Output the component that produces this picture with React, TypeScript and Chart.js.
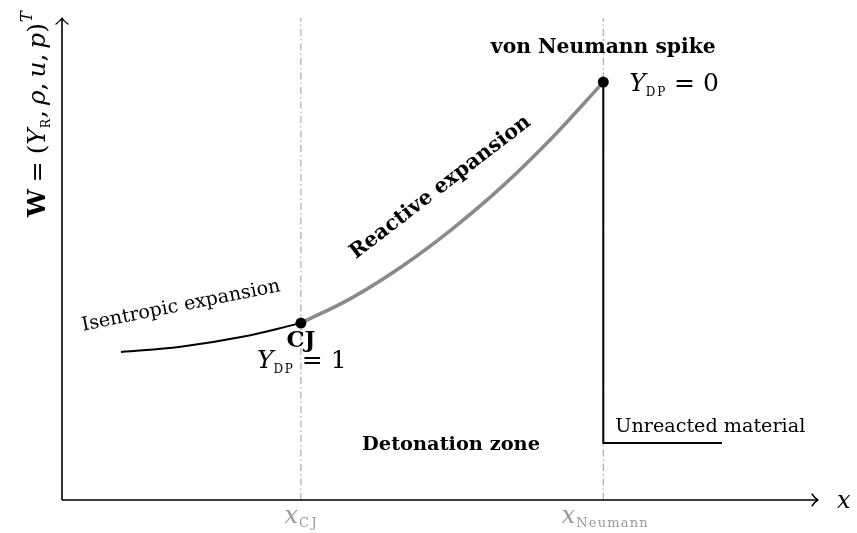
import React, { useEffect, useRef } from "react";
import { Chart, registerables } from "chart.js";

Chart.register(...registerables);

// ---- data (arbitrary units, x: 0..10, y: 0..10) ----
const X_CJ = 3.16;
const X_VN = 7.16;
const Y_CJ = 3.67;
const Y_VN = 8.67;

const isentropicX = [0.78, 1.57, 2.37, 3.16];
const isentropicY = [3.07, 3.18, 3.38, 3.67];

const reactiveX = [3.16, 3.84, 4.5, 5.16, 5.82, 6.48, 7.16];
const reactiveY = [3.67, 4.2, 4.85, 5.62, 6.5, 7.51, 8.67];

const unreactedX = [7.16, 7.16, 8.73];
const unreactedY = [8.67, 1.18, 1.18];

const X_MIN = 0, X_MAX = 10, Y_MIN = 0, Y_MAX = 10;

const SERIF = '"DejaVu Serif", "Liberation Serif", serif';

type Run = { t: string; size: number; italic?: boolean; bold?: boolean; dy?: number; sp?: number; ls?: number };

function fontFor(r: Run, k: number) {
  return `${r.italic ? "italic " : ""}${r.bold ? "bold " : ""}${(r.size * k).toFixed(2)}px ${SERIF}`;
}
function runW(ctx: CanvasRenderingContext2D, r: Run, k: number) {
  ctx.font = fontFor(r, k);
  (ctx as any).letterSpacing = `${r.ls || 0}px`;
  const w = ctx.measureText(r.t).width;
  (ctx as any).letterSpacing = "0px";
  return w + (r.sp || 0);
}
function drawRuns(
  ctx: CanvasRenderingContext2D,
  runs: Run[],
  x: number,
  y: number,
  align: "left" | "center",
  color: string,
  target?: number
) {
  let total = runs.reduce((s, r) => s + runW(ctx, r, 1), 0);
  const k = target ? target / total : 1;
  total = runs.reduce((s, r) => s + runW(ctx, r, k), 0);
  let cx = align === "center" ? x - total / 2 : x;
  ctx.fillStyle = color;
  ctx.textAlign = "left";
  ctx.textBaseline = "alphabetic";
  for (const r of runs) {
    cx += r.sp || 0;
    ctx.font = fontFor(r, k);
    (ctx as any).letterSpacing = `${r.ls || 0}px`;
    ctx.fillText(r.t, cx, y + (r.dy || 0));
    cx += ctx.measureText(r.t).width;
    (ctx as any).letterSpacing = "0px";
  }
}

const toPts = (xs: number[], ys: number[]) => xs.map((x, i) => ({ x, y: ys[i] }));

const annotPlugin = {
  id: "annot",
  afterDraw(chart: any) {
    const ctx: CanvasRenderingContext2D = chart.ctx;
    const xs = chart.scales.x;
    const ys = chart.scales.y;
    const a = chart.chartArea;
    const px = (v: number) => xs.getPixelForValue(v);
    const py = (v: number) => ys.getPixelForValue(v);
    ctx.save();

    // axes with arrows
    ctx.strokeStyle = "#000";
    ctx.lineWidth = 1.6;
    ctx.lineCap = "butt";
    ctx.beginPath();
    ctx.moveTo(a.left, a.bottom);
    ctx.lineTo(a.right - 1, a.bottom);
    ctx.moveTo(a.left, a.bottom);
    ctx.lineTo(a.left, a.top + 1);
    ctx.stroke();
    ctx.lineWidth = 1.4;
    ctx.lineJoin = "round";
    ctx.lineCap = "round";
    ctx.beginPath();
    ctx.moveTo(a.right - 6, a.bottom - 6);
    ctx.quadraticCurveTo(a.right - 3, a.bottom - 1.5, a.right, a.bottom);
    ctx.quadraticCurveTo(a.right - 3, a.bottom + 1.5, a.right - 6, a.bottom + 6);
    ctx.moveTo(a.left - 6, a.top + 6);
    ctx.quadraticCurveTo(a.left - 1.5, a.top + 3, a.left, a.top);
    ctx.quadraticCurveTo(a.left + 1.5, a.top + 3, a.left + 6, a.top + 6);
    ctx.stroke();

    const black = "#000";
    const gray = "#999";

    // axis labels
    drawRuns(ctx, [{ t: "x", size: 24, italic: true }], a.right + 19, a.bottom + 8, "left", black);
    drawRuns(
      ctx,
      [{ t: "x", size: 24, italic: true }, { t: "CJ", size: 13, dy: 4, sp: 1, ls: 2.5 }],
      px(X_CJ) + 1,
      a.bottom + 23,
      "center",
      gray
    );
    drawRuns(
      ctx,
      [{ t: "x", size: 24, italic: true }, { t: "Neumann", size: 13, dy: 4, sp: 1, ls: 1.2 }],
      px(X_VN) + 2,
      a.bottom + 23,
      "center",
      gray
    );

    // y axis label (rotated)
    ctx.save();
    ctx.translate(a.left - 17, a.bottom - 283);
    ctx.rotate(-Math.PI / 2);
    drawRuns(
      ctx,
      [
        { t: "W", size: 24, bold: true },
        { t: "=", size: 24, sp: 7 },
        { t: "(", size: 24, sp: 7 },
        { t: "Y", size: 24, italic: true },
        { t: "R", size: 12, dy: 5, ls: 1 },
        { t: ",", size: 24 },
        { t: "ρ", size: 24, italic: true, sp: 5 },
        { t: ",", size: 24 },
        { t: "u", size: 24, italic: true, sp: 5 },
        { t: ",", size: 24 },
        { t: "p", size: 24, italic: true, sp: 5 },
        { t: ")", size: 24 },
        { t: "T", size: 16, italic: true, dy: -13, sp: 1 },
      ],
      0,
      0,
      "left",
      black,
      207
    );
    ctx.restore();

    // point labels
    drawRuns(ctx, [{ t: "von Neumann spike", size: 16, bold: true }], px(X_VN), py(Y_VN) - 29, "center", black, 225);
    drawRuns(
      ctx,
      [
        { t: "Y", size: 25, italic: true },
        { t: "DP", size: 12, dy: 5, ls: 1.8 },
        { t: "=", size: 25, sp: 7 },
        { t: "0", size: 25, sp: 8 },
      ],
      px(X_VN) + 26,
      py(Y_VN) + 9,
      "left",
      black
    );
    drawRuns(ctx, [{ t: "CJ", size: 17, bold: true }], px(X_CJ), py(Y_CJ) + 24, "center", black, 29);
    drawRuns(
      ctx,
      [
        { t: "Y", size: 25, italic: true },
        { t: "DP", size: 12, dy: 5, ls: 1.8 },
        { t: "=", size: 25, sp: 7 },
        { t: "1", size: 25, sp: 8 },
      ],
      px(X_CJ) - 44,
      py(Y_CJ) + 45,
      "left",
      black
    );

    drawRuns(ctx, [{ t: "Detonation zone", size: 16, bold: true }], 451, 450, "center", black, 178);
    drawRuns(ctx, [{ t: "Unreacted material", size: 17 }], px(X_VN) + 12, 432, "left", black, 190);

    // rotated labels
    ctx.save();
    ctx.translate(181, 306);
    ctx.rotate((-11.3 * Math.PI) / 180);
    drawRuns(ctx, [{ t: "Isentropic expansion", size: 17 }], 0, 5, "center", black, 202);
    ctx.restore();

    ctx.save();
    ctx.translate(440, 187);
    ctx.rotate((-37.5 * Math.PI) / 180);
    drawRuns(ctx, [{ t: "Reactive expansion", size: 17, bold: true }], 0, 6, "center", black, 222);
    ctx.restore();

    ctx.restore();
  },
};

export default function App() {
  const ref = useRef<HTMLCanvasElement>(null);
  useEffect(() => {
    if (!ref.current) return;
    const dashDot = [7, 3, 1.5, 3];
    const chart = new Chart(ref.current, {
      type: "line",
      data: {
        datasets: [
          // drawn top-most first (Chart.js draws lower indices on top)
          {
            data: toPts([X_CJ, X_VN], [Y_CJ, Y_VN]),
            showLine: false,
            pointRadius: 5.5,
            pointBackgroundColor: "#000",
            pointBorderColor: "#000",
            pointBorderWidth: 0,
          },
          {
            data: toPts(unreactedX, unreactedY),
            borderColor: "#000",
            borderWidth: 2,
            pointRadius: 0,
            tension: 0,
          },
          {
            data: toPts(isentropicX, isentropicY),
            borderColor: "#000",
            borderWidth: 2,
            pointRadius: 0,
            tension: 0.4,
          },
          {
            data: toPts(reactiveX, reactiveY),
            borderColor: "#8a8a8a",
            borderWidth: 3.6,
            pointRadius: 0,
            tension: 0.4,
          },
          {
            data: toPts([X_CJ, X_CJ], [Y_MIN, Y_MAX]),
            borderColor: "#999",
            borderWidth: 1,
            borderDash: dashDot,
            pointRadius: 0,
          },
          {
            data: toPts([X_VN, X_VN], [Y_MIN, Y_MAX]),
            borderColor: "#999",
            borderWidth: 1,
            borderDash: dashDot,
            pointRadius: 0,
          },
        ] as any,
      },
      options: {
        responsive: false,
        animation: false,
        events: [],
        layout: { padding: { left: 62, right: 39, top: 18, bottom: 33 } },
        scales: {
          x: { type: "linear", min: X_MIN, max: X_MAX, display: false },
          y: { type: "linear", min: Y_MIN, max: Y_MAX, display: false },
        },
        plugins: { legend: { display: false }, tooltip: { enabled: false } },
      },
      plugins: [annotPlugin],
    });
    return () => chart.destroy();
  }, []);
  return (
    <div style={{ position: "fixed", left: 0, top: 0, width: 857, height: 533, background: "#fff" }}>
      <canvas ref={ref} width={857} height={533} style={{ display: "block" }} />
    </div>
  );
}
